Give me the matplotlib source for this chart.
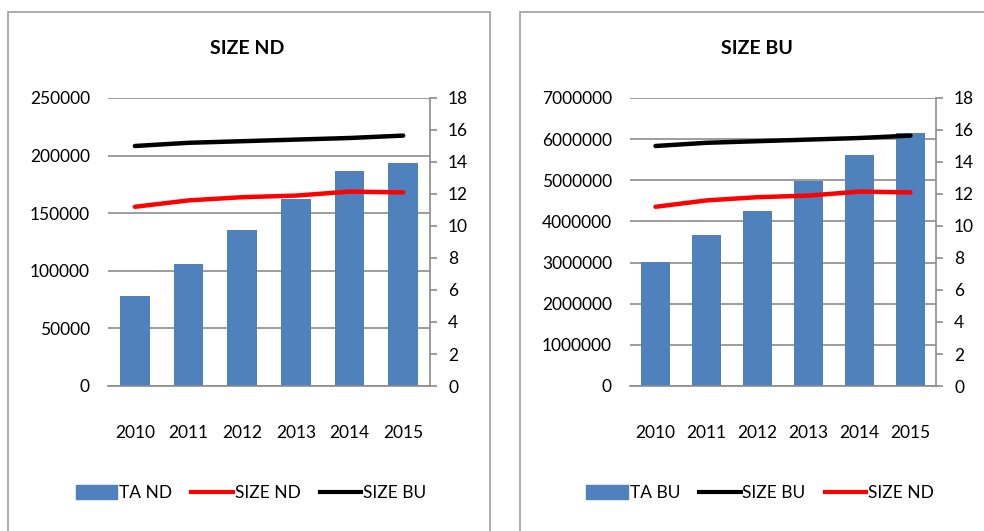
import matplotlib
matplotlib.use("Agg")
import matplotlib.pyplot as plt
from matplotlib.patches import Rectangle, Patch
from matplotlib.lines import Line2D
from matplotlib.ticker import FuncFormatter

years = ["2010", "2011", "2012", "2013", "2014", "2015"]
ta_nd = [78000, 106000, 135000, 162000, 187000, 194000]
ta_bu = [3010000, 3660000, 4260000, 4990000, 5610000, 6160000]
size_nd = [11.2, 11.6, 11.8, 11.9, 12.15, 12.1]
size_bu = [15.0, 15.2, 15.3, 15.4, 15.5, 15.65]

plt.rcParams['font.family'] = ['Lato', 'DejaVu Sans']

BLUE = '#4F81BD'
GRID = '#8C8C8C'
W, H = 984, 531

fig = plt.figure(figsize=(9.84, 5.31), dpi=100)

# rahmen der beiden diagramme
fig.patches.append(Rectangle((8 / W, -0.01), (490 - 8) / W, (531 - 12) / H + 0.01,
                             transform=fig.transFigure, fill=False, ec='#A0A0A0', lw=1.2))
fig.patches.append(Rectangle((520 / W, -0.01), (1000 - 520) / W, (531 - 12) / H + 0.01,
                             transform=fig.transFigure, fill=False, ec='#A0A0A0', lw=1.2))


def draw_panel(x0, x1, title, bars, bar_label, ymax, ystep, lines, title_x, leg_x):
    ax = fig.add_axes([x0 / W, (H - 386) / H, (x1 - x0) / W, 288 / H])
    x = range(len(years))
    ax.bar(x, bars, width=0.55, color=BLUE, zorder=2)
    ax.set_ylim(0, ymax)
    ax.set_yticks(range(0, ymax + 1, ystep))
    ax.yaxis.set_major_formatter(FuncFormatter(lambda v, p: f"{int(v)}"))
    ax.set_xlim(-0.5, len(years) - 0.5)
    ax.set_xticks(list(x))
    ax.set_xticklabels(years)
    ax.grid(axis='y', color=GRID, lw=1.2, zorder=0)
    for s in ['top', 'left', 'right']:
        ax.spines[s].set_visible(False)
    ax.spines['bottom'].set_color(GRID)
    ax.spines['bottom'].set_linewidth(1.2)
    ax.tick_params(axis='y', length=0, pad=13, labelsize=12.5)
    ax.tick_params(axis='x', length=0, pad=28, labelsize=12.5)

    ax2 = ax.twinx()
    handles = [Patch(color=BLUE, label=bar_label)]
    for vals, col, lab in lines:
        ax2.plot(list(x), vals, color=col, lw=3.2, solid_capstyle='round', zorder=3)
        handles.append(Line2D([], [], color=col, lw=3, label=lab))
    ax2.set_ylim(0, 18)
    ax2.set_yticks(range(0, 19, 2))
    for s in ['top', 'left', 'bottom']:
        ax2.spines[s].set_visible(False)
    ax2.spines['right'].set_color(GRID)
    ax2.spines['right'].set_linewidth(1.2)
    ax2.tick_params(axis='y', length=5, color=GRID, width=1.2, pad=8, labelsize=12.5)

    fig.text(title_x / W, (H - 49) / H, title, ha='center', va='center',
             fontsize=14, fontweight='bold')
    fig.legend(handles=handles, loc='center', bbox_to_anchor=(leg_x / W, (H - 493) / H),
               ncol=3, frameon=False, fontsize=12.5, handlelength=2.4, handleheight=0.9,
               handletextpad=0.1, columnspacing=1.1)


draw_panel(108, 430, "SIZE ND", ta_nd, "TA ND", 250000, 50000,
           [(size_nd, '#FF0000', 'SIZE ND'), (size_bu, '#000000', 'SIZE BU')],
           247, 251)
draw_panel(630, 936, "SIZE BU", ta_bu, "TA BU", 7000000, 1000000,
           [(size_bu, '#000000', 'SIZE BU'), (size_nd, '#FF0000', 'SIZE ND')],
           757, 760)

fig.savefig("out.png", dpi=100)
